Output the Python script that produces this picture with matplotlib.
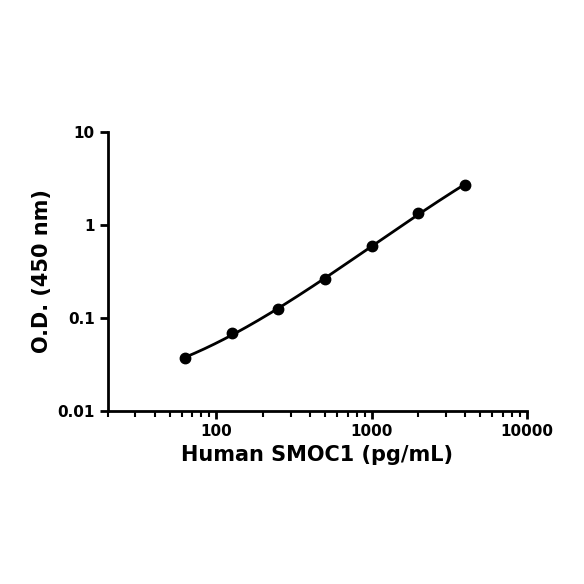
import numpy as np
import matplotlib
matplotlib.use("Agg")
import matplotlib.pyplot as plt
from matplotlib.ticker import LogLocator, FixedLocator, NullFormatter

# Standard curve points
conc = [62.5, 125, 250, 500, 1000, 2000, 4000]
od = [0.037, 0.069, 0.125, 0.26, 0.59, 1.35, 2.7]

plt.rcParams['font.family'] = ['DejaVu Sans']
plt.rcParams['font.weight'] = 'bold'

fig = plt.figure(figsize=(5.84, 5.84), dpi=100)
ax = fig.add_axes([0.185, 0.296, 0.717, 0.478])

# smooth fitted curve in log-log space
lx, ly = np.log10(conc), np.log10(od)
coef = np.polyfit(lx, ly, 3)
xs = np.linspace(lx[0], lx[-1], 200)
ax.plot(10 ** xs, 10 ** np.polyval(coef, xs), color='black', lw=2)
ax.plot(conc, od, 'o', color='black', ms=7.5)

ax.set_xscale('log')
ax.set_yscale('log')
ax.set_xlim(20, 10000)
ax.set_ylim(0.01, 10)
ax.xaxis.set_major_locator(FixedLocator([100, 1000, 10000]))
ax.xaxis.set_minor_locator(LogLocator(base=10, subs=np.arange(1, 10)))
ax.xaxis.set_minor_formatter(NullFormatter())
ax.yaxis.set_major_locator(FixedLocator([0.01, 0.1, 1, 10]))
ax.yaxis.set_minor_locator(FixedLocator([]))
ax.set_xticklabels(['100', '1000', '10000'])
ax.set_yticklabels(['0.01', '0.1', '1', '10'])

for s in ['top', 'right']:
    ax.spines[s].set_visible(False)
for s in ['left', 'bottom']:
    ax.spines[s].set_linewidth(2)
ax.tick_params(which='major', width=2, length=6, labelsize=11)
ax.tick_params(which='minor', width=1.5, length=4)

ax.set_xlabel('Human SMOC1 (pg/mL)', fontsize=15, fontweight='bold')
ax.set_ylabel('O.D. (450 nm)', fontsize=15, fontweight='bold')

fig.savefig('out.png', dpi=100)
